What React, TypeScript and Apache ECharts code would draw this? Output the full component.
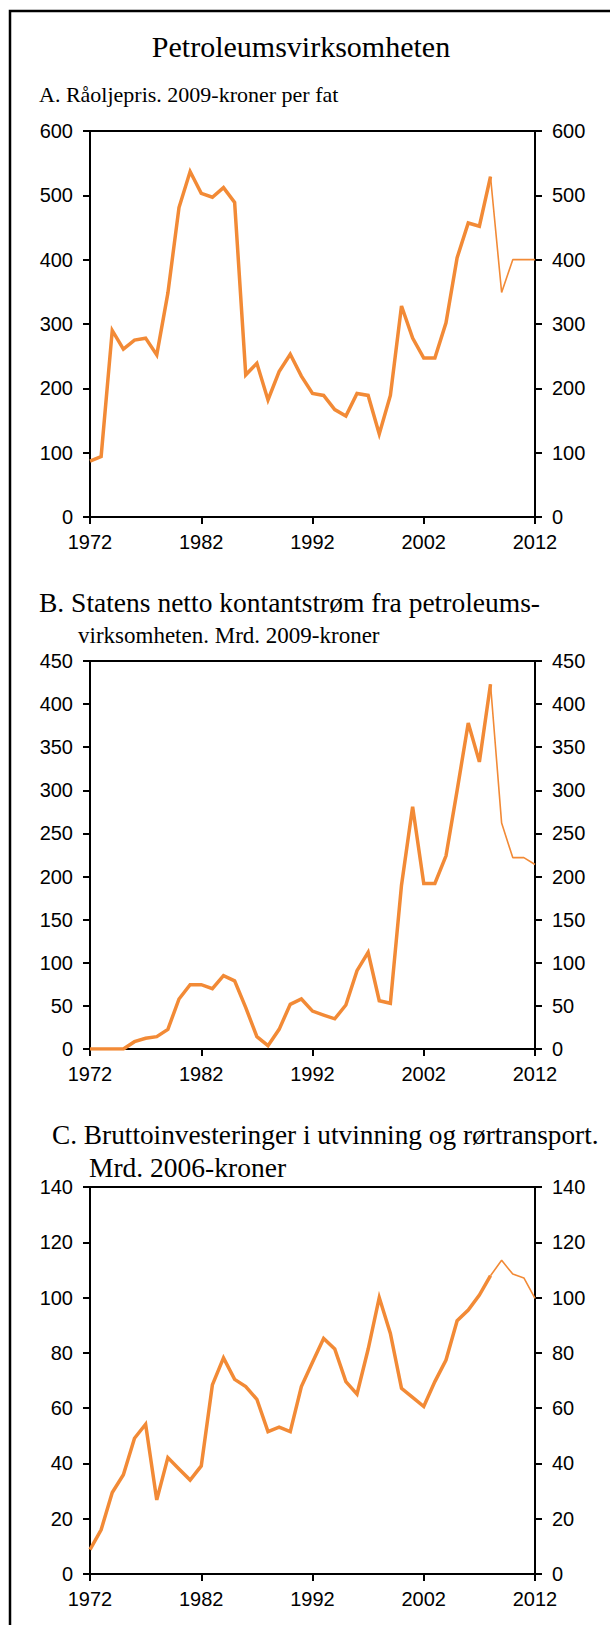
import React, { useEffect, useRef } from "react";
import * as echarts from "echarts";

const years = [
  1972, 1973, 1974, 1975, 1976, 1977, 1978, 1979, 1980, 1981,
  1982, 1983, 1984, 1985, 1986, 1987, 1988, 1989, 1990, 1991,
  1992, 1993, 1994, 1995, 1996, 1997, 1998, 1999, 2000, 2001,
  2002, 2003, 2004, 2005, 2006, 2007, 2008, 2009, 2010, 2011, 2012,
];

// A. Råoljepris, 2009-kroner per fat
const oilPrice = [
  87, 94, 290, 261, 275, 278, 252, 348, 481, 537,
  503, 497, 512, 489, 221, 239, 182, 226, 253, 219,
  192, 189, 167, 157, 192, 189, 129, 189, 328, 278,
  247, 247, 302, 403, 457, 452, 529, 349, 400, 400, 400,
];

// B. Statens netto kontantstrøm fra petroleumsvirksomheten, mrd. 2009-kroner
const cashFlow = [
  0, 0, 0, 0, 8.5, 12.4, 14.3, 22.8, 58, 74.6,
  74.6, 70, 85, 79, 48, 14.3, 3.9, 22.8, 51.8, 58,
  44, 39.4, 35, 51, 90.8, 112, 56, 53, 190, 281,
  192, 192, 224, 300, 378, 333, 423, 262, 222, 222, 214,
];

// C. Bruttoinvesteringer i utvinning og rørtransport, mrd. 2006-kroner
const investment = [
  8.8, 16, 29.5, 35.9, 49.1, 54.2, 26.8, 42.1, 38, 34,
  39.1, 68.4, 78.2, 70.4, 67.8, 63.2, 51.5, 53.1, 51.5, 67.8,
  76.6, 85.2, 81.4, 69.6, 65.1, 81.3, 100, 87, 67.2, 63.9,
  60.6, 69.6, 77.4, 91.6, 95.5, 100.9, 107.9, 113.5, 108.5, 107.1, 99.7,
];

const yTicksA = { min: 0, max: 600, interval: 100 };
const yTicksB = { min: 0, max: 450, interval: 50 };
const yTicksC = { min: 0, max: 140, interval: 20 };
const xTicks = { min: 1972, max: 2012, interval: 10 };
const lastActualYear = 2008;

const titleText = "Petroleumsvirksomheten";
const subA = ["A. Råoljepris. 2009-kroner per fat"];
const subB = ["B. Statens netto kontantstrøm fra petroleums-", "virksomheten. Mrd. 2009-kroner"];
const subC = ["C. Bruttoinvesteringer i utvinning og rørtransport.", "Mrd. 2006-kroner"];

const ORANGE = "#F28A36";
const SERIF = "'Liberation Serif', 'Times New Roman', serif";
const SANS = "'Liberation Sans', Arial, sans-serif";

function pairs(vals: number[], part: "actual" | "forecast") {
  return years.map((y, i) => {
    const keep = part === "actual" ? y <= lastActualYear : y >= lastActualYear;
    return [y, keep ? vals[i] : null];
  });
}

export default function App() {
  const ref = useRef<HTMLDivElement>(null);
  useEffect(() => {
    if (!ref.current) return;
    const chart = echarts.init(ref.current, undefined, { renderer: "svg" });

    const grids = [
      { left: 90, top: 131, width: 445, height: 386 },
      { left: 90, top: 661, width: 445, height: 388 },
      { left: 90, top: 1187, width: 445, height: 387 },
    ].map((g) => ({ ...g, show: true, borderColor: "#000", borderWidth: 2, backgroundColor: "transparent" }));

    const axisLine = { show: true, onZero: false, lineStyle: { color: "#000", width: 2 } };
    const axisTick = { show: true, length: 7, inside: false, lineStyle: { color: "#000", width: 2 } };

    const xAxes = [0, 1, 2].map((i) => ({
      type: "value",
      gridIndex: i,
      ...xTicks,
      axisLine,
      axisTick,
      splitLine: { show: false },
      axisLabel: { color: "#000", fontSize: 20, fontFamily: SANS, margin: 15, formatter: (v: number) => String(v) },
    }));

    const yDefs = [yTicksA, yTicksB, yTicksC];
    const yAxes: any[] = [];
    yDefs.forEach((d, i) => {
      ["left", "right"].forEach((pos) => {
        yAxes.push({
          type: "value",
          gridIndex: i,
          position: pos,
          ...d,
          axisLine,
          axisTick,
          splitLine: { show: false },
          axisLabel: { color: "#000", fontSize: 20, fontFamily: SANS, margin: 17, formatter: (v: number) => String(v) },
        });
      });
    });

    const datasets = [oilPrice, cashFlow, investment];
    const series: any[] = [];
    datasets.forEach((vals, i) => {
      series.push({
        type: "line",
        xAxisIndex: i,
        yAxisIndex: i * 2,
        data: pairs(vals, "actual"),
        symbol: "none",
        lineStyle: { color: ORANGE, width: 3.5, join: "miter" },
        z: 3,
      });
      series.push({
        type: "line",
        xAxisIndex: i,
        yAxisIndex: i * 2,
        data: pairs(vals, "forecast"),
        symbol: "none",
        lineStyle: { color: ORANGE, width: 1.6 },
        z: 3,
      });
    });

    const txt = (text: string, x: number, baseline: number, size: number, align = "left") => ({
      type: "text",
      x,
      y: baseline - size * 0.34,
      style: { text, fontSize: size, fontFamily: SERIF, fill: "#000", textAlign: align, textVerticalAlign: "middle" },
    });

    const graphic: any[] = [
      { type: "rect", shape: { x: 10, y: 11, width: 650, height: 1660 }, style: { fill: "none", stroke: "#000", lineWidth: 2.5 } },
      txt(titleText, 301, 56.7, 30, "center"),
      txt(subA[0], 39, 102, 22),
      txt(subB[0], 39, 612, 27.5),
      txt(subB[1], 78, 643, 23),
      txt(subC[0], 52, 1144.5, 27.3),
      txt(subC[1], 89, 1177, 27.5),
    ];

    chart.setOption({
      animation: false,
      backgroundColor: "#fff",
      grid: grids,
      xAxis: xAxes,
      yAxis: yAxes,
      series,
      graphic,
    });
    return () => chart.dispose();
  }, []);

  return <div ref={ref} style={{ position: "absolute", left: 0, top: 0, width: 610, height: 1625 }} />;
}
